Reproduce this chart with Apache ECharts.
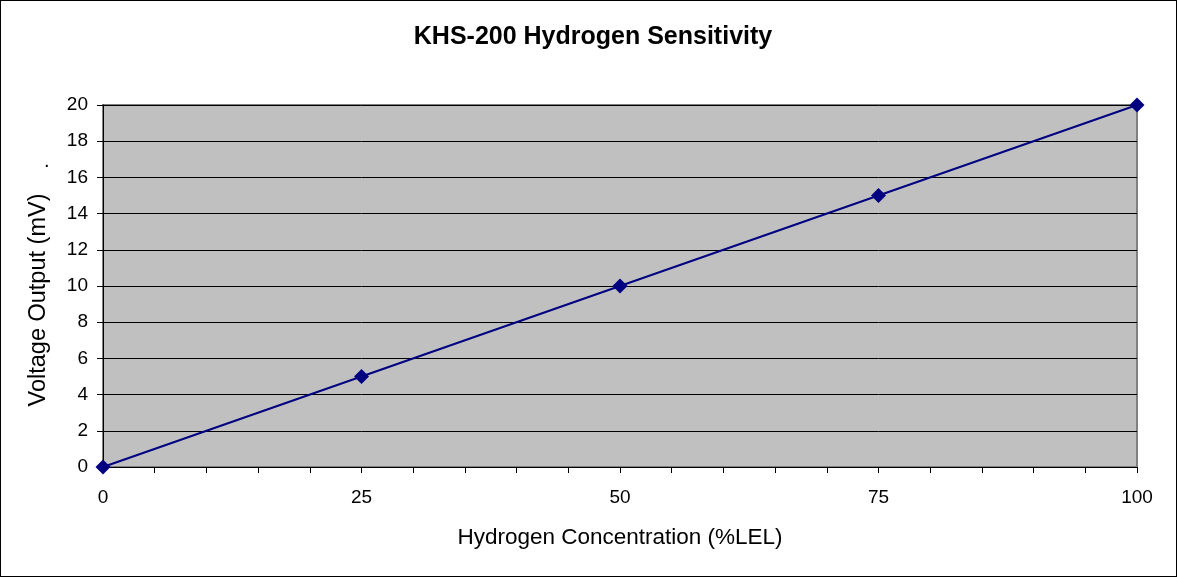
<!DOCTYPE html>
<html><head><meta charset="utf-8">
<script src="https://cdn.jsdelivr.net/npm/echarts@6/dist/echarts.min.js"></script>
<style>html,body{margin:0;padding:0;background:#fff}#c{width:1177px;height:577px;box-sizing:border-box;border:1px solid #000}</style>
</head><body><div id="c"></div>
<script>
const concentration = [0, 25, 50, 75, 100];
const voltage = [0, 5, 10, 15, 20];
const titleText = 'KHS-200 Hydrogen Sensitivity';
const xName = 'Hydrogen Concentration (%LEL)';
const yName = 'Voltage Output (mV)';

const chart = echarts.init(document.getElementById('c'), null, {renderer: 'canvas'});
const font = 'Arial, "Liberation Sans", sans-serif';
chart.setOption({
  animation: false,
  backgroundColor: '#fff',
  title: {text: titleText, left: 587, top: 19, textAlign: 'center',
    textStyle: {fontFamily: font, fontSize: 25, fontWeight: 'bold', color: '#000'}},
  grid: {left: 102, right: 39, top: 104, bottom: 109, show: true,
    backgroundColor: '#c0c0c0', borderColor: '#808080', borderWidth: 2},
  xAxis: {type: 'value', min: 0, max: 100, interval: 25,
    name: xName, nameLocation: 'middle', nameGap: 59,
    nameTextStyle: {fontFamily: font, fontSize: 22.5, color: '#000'},
    axisLine: {lineStyle: {color: '#000', width: 1}},
    axisTick: {show: true, length: 6, lineStyle: {color: '#000'}},
    minorTick: {show: true, splitNumber: 5, length: 6, lineStyle: {color: '#000'}},
    axisLabel: {fontFamily: font, fontSize: 19, color: '#000', margin: 21},
    splitLine: {show: false}},
  yAxis: {type: 'value', min: 0, max: 20, interval: 2,
    name: yName, nameLocation: 'middle', nameGap: 52,
    nameTextStyle: {fontFamily: font, fontSize: 23.5, color: '#000', padding: [0, 28, 0, 0]},
    axisLine: {show: true, lineStyle: {color: '#000', width: 1}},
    axisTick: {show: true, length: 6, lineStyle: {color: '#000'}},
    axisLabel: {fontFamily: font, fontSize: 19, color: '#000', margin: 15},
    splitLine: {show: true, lineStyle: {color: '#000', width: 1}}},
  graphic: [{type: 'text', left: 43, top: 150, style: {text: '.', font: '20px ' + font, fill: '#000'}}],
  series: [{type: 'line', data: concentration.map((x, i) => [x, voltage[i]]),
    symbol: 'diamond', symbolSize: 15, clip: false,
    lineStyle: {color: '#000080', width: 2},
    itemStyle: {color: '#000080'}}]
});
</script></body></html>
